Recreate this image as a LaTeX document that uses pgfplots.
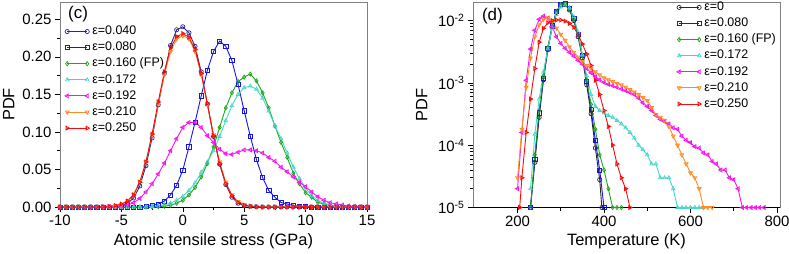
\documentclass[border=0pt]{standalone}
\usepackage{fontspec}
\setmainfont{Liberation Sans}
\usepackage{pgfplots}
\usepackage{pgfplotstable}
\pgfplotsset{compat=1.18}

\definecolor{cnavy}{RGB}{40,40,140}
\definecolor{cblue}{RGB}{20,20,235}
\definecolor{cgreen}{RGB}{30,165,30}
\definecolor{ccyan}{RGB}{70,215,200}
\definecolor{cmag}{RGB}{250,20,240}
\definecolor{corange}{RGB}{255,140,40}
\definecolor{cred}{RGB}{250,10,10}
\definecolor{cblack}{RGB}{40,40,40}

\pgfplotstableread{
x     A      B      C      D      E      F      G
-10   0      0      0      0      0      0      0
-9.5  0      0      0      0      0      0      0
-9    0      0      0      0      0      0      0
-8.5  0      0      0      0      0      0      0
-8    0      0      0      0      0      0      0
-7.5  0      0      0      0      0      0      0
-7    0      0      0      0      0      0      0
-6.5  0      0      0      0      0      0      0.0003
-6    0.0002 0      0      0      0.0003 0.0004 0.0008
-5.5  0.0008 0      0      0      0.0008 0.001  0.002
-5    0.002  0      0      0      0.0015 0.003  0.004
-4.5  0.005  0      0      0      0.0026 0.008  0.008
-4    0.012  0      0      0      0.0057 0.017  0.016
-3.5  0.028  0      0      0      0.0114 0.034  0.033
-3    0.055  0.001  0      0      0.020  0.060  0.060
-2.5  0.092  0.002  0      0.0007 0.031  0.096  0.097
-2    0.136  0.004  0.0005 0.0015 0.044  0.137  0.140
-1.5  0.178  0.008  0.001  0.003  0.0585 0.176  0.180
-1    0.215  0.016  0.0025 0.005  0.075  0.207  0.212
-0.5  0.236  0.029  0.005  0.009  0.091  0.224  0.227
0     0.240  0.049  0.009  0.014  0.106  0.228  0.231
0.5   0.232  0.080  0.016  0.022  0.1126 0.224  0.226
1     0.214  0.113  0.026  0.032  0.1126 0.207  0.210
1.5   0.180  0.148  0.040  0.046  0.106  0.176  0.178
2     0.137  0.182  0.058  0.060  0.095  0.137  0.138
2.5   0.094  0.207  0.080  0.075  0.086  0.096  0.095
3     0.057  0.221  0.106  0.094  0.077  0.060  0.058
3.5   0.030  0.214  0.132  0.115  0.071  0.033  0.031
4     0.013  0.195  0.152  0.135  0.070  0.016  0.015
4.5   0.005  0.163  0.167  0.150  0.073  0.007  0.006
5     0.002  0.128  0.173  0.159  0.076  0.003  0.0025
5.5   0.0007 0.094  0.177  0.161  0.076  0.001  0.001
6     0.0002 0.063  0.168  0.157  0.075  0.0004 0.0003
6.5   0      0.039  0.152  0.145  0.072  0      0
7     0      0.022  0.132  0.128  0.066  0      0
7.5   0      0.013  0.108  0.108  0.061  0      0
8     0      0.006  0.086  0.091  0.053  0      0
8.5   0      0.004  0.066  0.072  0.047  0      0
9     0      0.002  0.045  0.053  0.040  0      0
9.5   0      0.001  0.031  0.038  0.033  0      0
10    0      0.0005 0.019  0.025  0.027  0      0
10.5  0      0      0.013  0.015  0.020  0      0
11    0      0      0.006  0.0085 0.0136 0      0
11.5  0      0      0.004  0.005  0.009  0      0
12    0      0      0.002  0.003  0.0057 0      0
12.5  0      0      0.001  0.0015 0.004  0      0
13    0      0      0.0005 0.0007 0.0026 0      0
13.5  0      0      0      0      0.0015 0      0
14    0      0      0      0      0.001  0      0
14.5  0      0      0      0      0.0005 0      0
15    0      0      0      0      0      0      0
}\stressdata

\pgfplotsset{
  panel/.style={
    scale only axis, width=307bp, height=205bp,
    axis line style={gray, line width=0.8bp},
    tick align=outside, xtick pos=bottom, ytick pos=left,
    major tick length=5bp, minor tick length=3bp,
    every tick/.style={black, line width=0.6bp},
    clip=false,
    ticklabel style={font=\fontsize{15}{15}\selectfont},
    every axis y label/.style={at={(axis description cs:-0.167,0.5)}, rotate=90, anchor=center, font=\fontsize{16.5}{16.5}\selectfont},
    every axis x label/.style={at={(axis description cs:0.5,-0.167)}, anchor=center, font=\fontsize{16.5}{16.5}\selectfont},
    legend style={draw=none, fill=none, anchor=north west,
      font=\fontsize{12.5}{12.5}\selectfont, inner sep=0pt,
      nodes={inner sep=0pt, text height=9bp, text depth=2.5bp},
      row sep=4.6bp, column sep=3bp},
    legend cell align=left,
    legend image code/.code={
      \draw[mark repeat=2, mark phase=1, #1] plot coordinates {(0bp,0bp) (10bp,0bp) (20bp,0bp)};
    },
    every axis plot/.append style={line width=0.9bp, mark size=2.1bp, mark options={solid, fill=white, line width=0.7bp}},
  }
}

\begin{document}
\begin{tikzpicture}
\useasboundingbox (0,0) rectangle (789bp,254bp);
% ---------------- left panel (c)
\begin{axis}[panel, at={(60bp,47bp)}, anchor=south west,
  xmin=-10, xmax=15, ymin=0, ymax=0.273,
  xtick={-10,-5,0,5,10,15}, xticklabels={-10,-5,0,5,10,15},
  minor xtick={-7.5,-2.5,2.5,7.5,12.5},
  ytick={0,0.05,0.10,0.15,0.20,0.25},
  yticklabels={0.00,0.05,0.10,0.15,0.20,0.25},
  minor ytick={0.025,0.075,0.125,0.175,0.225},
  xlabel={Atomic tensile stress (GPa)}, ylabel={PDF},
  legend style={at={(axis description cs:0.016,0.885)}},
]
\draw[black, line width=0.9bp] (rel axis cs:0,0) -- (rel axis cs:1,0);
\addplot[color=cnavy, mark=o] table[x=x, y=A] {\stressdata};
\addlegendentry{ε=0.040}
\addplot[color=cblue, mark=square] table[x=x, y=B] {\stressdata};
\addlegendentry{ε=0.080}
\addplot[color=cgreen, mark=diamond] table[x=x, y=C] {\stressdata};
\addlegendentry{ε=0.160 (FP)}
\addplot[color=ccyan, mark=triangle] table[x=x, y=D] {\stressdata};
\addlegendentry{ε=0.172}
\addplot[color=cmag, mark=triangle, mark options={rotate=90}] table[x=x, y=E] {\stressdata};
\addlegendentry{ε=0.192}
\addplot[color=corange, mark=triangle, mark options={rotate=180}] table[x=x, y=F] {\stressdata};
\addlegendentry{ε=0.210}
\addplot[color=cred, mark=triangle, mark options={rotate=-90}] table[x=x, y=G] {\stressdata};
\addlegendentry{ε=0.250}
\node[anchor=west, font=\fontsize{17}{17}\selectfont, inner sep=0pt] at (axis description cs:0.026,0.94) {(c)};
\end{axis}
% ---------------- right panel (d)
\begin{axis}[panel, at={(473bp,46.5bp)}, anchor=south west,
  ymode=log,
  xmin=97, xmax=807, ymin=1e-5, ymax=0.0195,
  xtick={200,400,600,800}, minor xtick={300,500,700},
  ytick={1e-5,1e-4,1e-3,1e-2},
  yticklabels={10\textsuperscript{-5},10\textsuperscript{-4},10\textsuperscript{-3},10\textsuperscript{-2}},
  /pgf/number format/assume math mode=true,
  xticklabel={\pgfmathprintnumber[assume math mode=true]{\tick}},
  xlabel={Temperature (K)}, ylabel={PDF},
  legend style={at={(axis description cs:0.664,1.005)}},
]
\draw[black, line width=0.9bp] (rel axis cs:0,0) -- (rel axis cs:1,0);
\addplot[color=cblack, mark=o] coordinates {
(230,1e-5)(240,5.3e-5)(250,2.8e-4)(260,1.12e-3)(270,3.4e-3)(280,7.8e-3)(290,0.0135)(300,0.0179)(310,0.0180)(320,0.0148)(330,0.0100)(340,5.5e-3)(350,2.5e-3)(360,9.3e-4)(370,3.2e-4)(380,9e-5)(390,2.8e-5)(395,1e-5)};
\addlegendentry{ε=0}
\addplot[color=cblue, mark=square] coordinates {
(230,1e-5)(240,6e-5)(250,3.3e-4)(260,1.2e-3)(270,3.6e-3)(280,8.2e-3)(290,0.014)(300,0.0183)(310,0.0188)(320,0.0155)(330,0.0108)(340,6.0e-3)(350,2.8e-3)(360,1.05e-3)(370,3.8e-4)(380,1.2e-4)(390,4e-5)(400,1e-5)};
\addlegendentry{ε=0.080}
\addplot[color=cgreen, mark=diamond] coordinates {
(230,1e-5)(240,7e-5)(250,3.6e-4)(260,1.3e-3)(270,3.7e-3)(280,8.0e-3)(290,0.0138)(300,0.0180)(310,0.0185)(320,0.0152)(330,0.0105)(340,5.8e-3)(350,2.7e-3)(360,1.1e-3)(370,4.5e-4)(380,1.8e-4)(390,7e-5)(400,4e-5)(410,2e-5)(420,1e-5)(430,1e-5)(440,1e-5)};
\addlegendentry{ε=0.160 (FP)}
\addplot[color=ccyan, mark=triangle] coordinates {
(230,2e-5)(240,1.5e-4)(250,5.5e-4)(260,1.5e-3)(270,3.5e-3)(280,7.5e-3)(290,0.0125)(300,0.0165)(310,0.0178)(320,0.0160)(330,0.0115)(340,6.5e-3)(350,2.8e-3)(360,1.3e-3)(370,6.5e-4)(380,4.2e-4)(390,3.6e-4)(400,3.3e-4)(410,3.0e-4)(420,2.8e-4)(430,2.5e-4)(440,2.2e-4)(450,1.9e-4)(460,1.6e-4)(470,1.3e-4)(480,1.0e-4)(490,8.5e-5)(500,7e-5)(510,5e-5)(520,5e-5)(530,3e-5)(540,3e-5)(550,3e-5)(560,2e-5)(570,1e-5)(580,1e-5)(590,1e-5)(600,1e-5)(610,1e-5)(620,1e-5)(630,1e-5)};
\addlegendentry{ε=0.172}
\addplot[color=cmag, mark=triangle, mark options={rotate=90}] coordinates {
(200,2e-5)(210,1.6e-4)(220,1.1e-3)(230,3.5e-3)(240,7e-3)(250,0.0105)(260,0.0118)(270,0.0110)(280,8.0e-3)(290,5.5e-3)(300,4.3e-3)(310,3.6e-3)(320,3.1e-3)(330,2.7e-3)(340,2.3e-3)(350,2.0e-3)(360,1.7e-3)(370,1.45e-3)(380,1.25e-3)(390,1.12e-3)(400,1.02e-3)(410,9.5e-4)(420,9.0e-4)(430,8.5e-4)(440,8.0e-4)(450,7.5e-4)(460,7.0e-4)(470,6.5e-4)(480,5.7e-4)(490,4.8e-4)(500,4.2e-4)(510,3.6e-4)(520,3.0e-4)(530,2.6e-4)(540,2.4e-4)(550,2.2e-4)(560,1.9e-4)(570,1.8e-4)(580,1.4e-4)(590,1.2e-4)(600,1.1e-4)(610,9.5e-5)(620,9e-5)(630,7.5e-5)(640,7e-5)(650,5.5e-5)(660,5e-5)(670,4e-5)(680,4e-5)(690,3e-5)(700,2.8e-5)(710,2e-5)(720,1e-5)(730,1e-5)(740,1e-5)(750,1e-5)(760,1e-5)(770,1e-5)};
\addlegendentry{ε=0.192}
\addplot[color=corange, mark=triangle, mark options={rotate=180}] coordinates {
(200,3e-5)(210,1.8e-4)(220,8.5e-4)(230,2.5e-3)(240,5.5e-3)(250,8.5e-3)(260,0.0105)(270,0.0110)(280,0.0098)(290,7.6e-3)(300,6.0e-3)(310,4.8e-3)(320,3.8e-3)(330,3.1e-3)(340,2.6e-3)(350,2.2e-3)(360,1.9e-3)(370,1.7e-3)(380,1.5e-3)(390,1.35e-3)(400,1.2e-3)(410,1.12e-3)(420,1.05e-3)(430,9.8e-4)(440,9.3e-4)(450,8.5e-4)(460,7.8e-4)(470,7.1e-4)(480,6.5e-4)(490,5.8e-4)(500,5.2e-4)(510,4.0e-4)(520,3.1e-4)(530,2.8e-4)(540,2.5e-4)(550,2.0e-4)(560,1.4e-4)(570,1.0e-4)(580,7e-5)(590,5e-5)(600,3.6e-5)(610,3e-5)(620,2e-5)(630,1e-5)(640,1e-5)(650,1e-5)};
\addlegendentry{ε=0.210}
\addplot[color=cred, mark=triangle, mark options={rotate=-90}] coordinates {
(205,1e-5)(210,3e-5)(220,1.6e-4)(230,5.5e-4)(240,1.7e-3)(250,4.5e-3)(260,7.5e-3)(270,9.2e-3)(280,0.0100)(290,0.0102)(300,0.0102)(310,9.8e-3)(320,9.0e-3)(330,7.8e-3)(340,6.0e-3)(350,4.2e-3)(360,2.9e-3)(370,1.9e-3)(380,1.1e-3)(390,6.5e-4)(400,3.6e-4)(410,2.0e-4)(420,1.0e-4)(430,5e-5)(440,3e-5)(450,2e-5)(460,1e-5)};
\addlegendentry{ε=0.250}
\node[anchor=west, font=\fontsize{17}{17}\selectfont, inner sep=0pt] at (axis description cs:0.029,0.935) {(d)};
\end{axis}
\end{tikzpicture}
\end{document}
